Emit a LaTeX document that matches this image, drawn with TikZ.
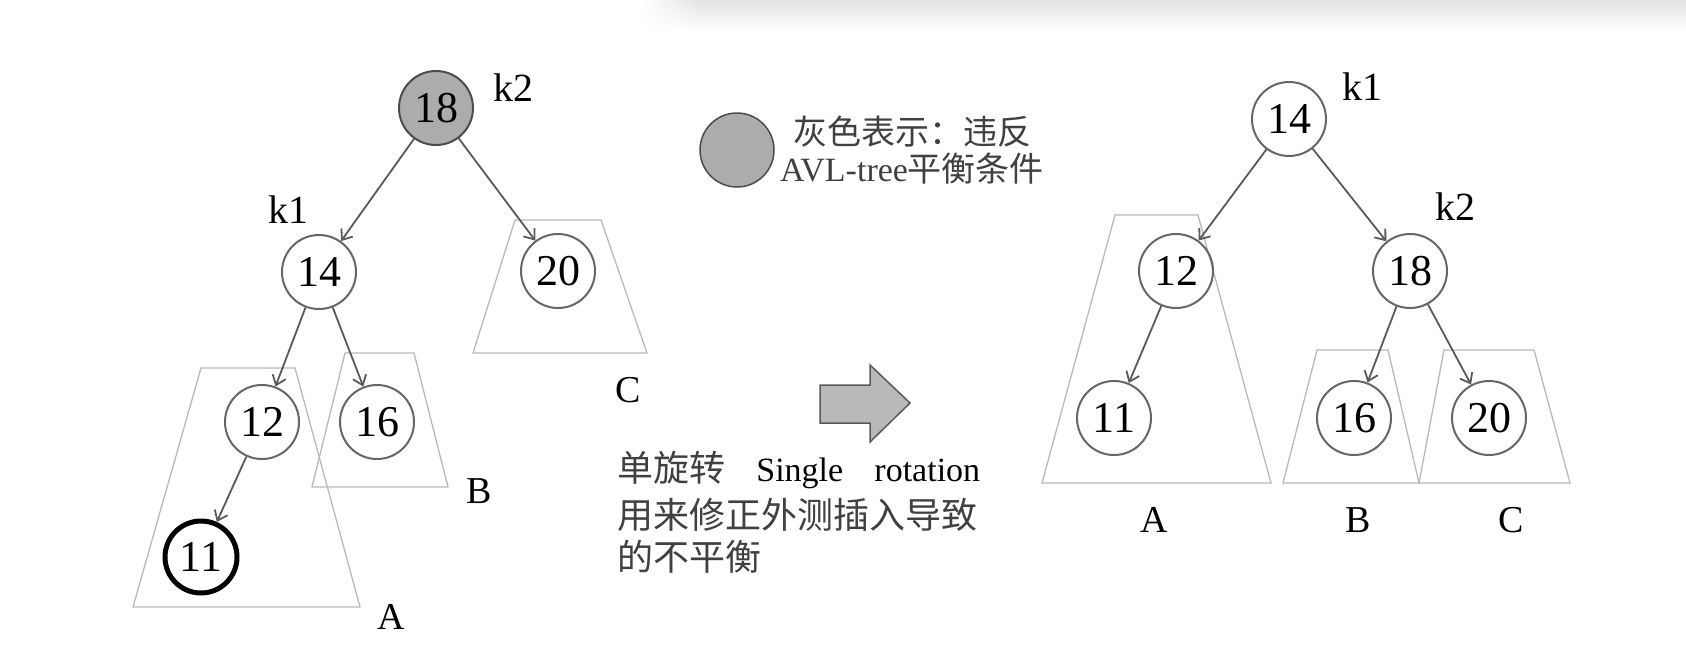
\documentclass[tikz,border=0pt]{standalone}
\usepackage{fontspec}
\setmainfont{Liberation Serif}
\newfontfamily\cjk{Noto Sans CJK SC}
\usetikzlibrary{arrows.meta,fadings}
\begin{document}
\begin{tikzpicture}[x=1pt,y=-1pt,
  tnode/.style={circle,draw=gray!80!black,line width=2pt,minimum size=74pt,inner sep=0pt,font=\fontsize{44}{44}\selectfont},
  hotnode/.style={tnode,fill=gray!65,draw=gray!60!black},
  newnode/.style={tnode,draw=black,line width=5pt,minimum size=72pt},
  edgearrow/.style={draw=gray!70!black,line width=1.8pt,-{Straight Barb[length=9pt,width=14pt]}},
  subtree/.style={draw=gray!55,line width=1.3pt},
  klabel/.style={font=\fontsize{40}{40}\selectfont,inner sep=0pt},
  sublabel/.style={font=\fontsize{38}{38}\selectfont,inner sep=0pt},
  legendtext/.style={font=\fontsize{34}{34}\selectfont,text=black!75,inner sep=0pt,anchor=west},
  notetext/.style={font=\fontsize{36}{36}\selectfont,text=black!75,inner sep=0pt,anchor=west}
]
\useasboundingbox (0,0) rectangle (1686,653);
% faint shadow at the top
\shade[top color=gray!22, bottom color=white] (700,0) rectangle (1686,32);
\shade[top color=gray!22, bottom color=white, path fading=west] (640,0) rectangle (700,32);

% ---------- left tree ----------
\draw[subtree] (515,220) -- (601,220) -- (647,353) -- (473,353) -- cycle;
\draw[subtree] (201,368) -- (295,368) -- (360,607) -- (133,607) -- cycle;
\draw[subtree] (345,353) -- (414,353) -- (448,487) -- (312,487) -- cycle;

\node[hotnode] (L18) at (436,108) {18};
\node[tnode] (L14) at (319,272) {14};
\node[tnode] (L20) at (558,271) {20};
\node[tnode] (L12) at (262,422) {12};
\node[tnode] (L16) at (377,422) {16};
\node[newnode] (L11) at (201,557) {11};

\node[klabel] (Lk2) at (513,88) {k2};
\node[klabel] (Lk1) at (288,210) {k1};
\node[sublabel] (LC) at (628,390) {C};
\node[sublabel] (LB) at (479,491) {B};
\node[sublabel] (LA) at (391,617) {A};

\draw[edgearrow] (L18) -- (L14);
\draw[edgearrow] (L18) -- (L20);
\draw[edgearrow] (L14) -- (L12);
\draw[edgearrow] (L14) -- (L16);
\draw[edgearrow] (L12) -- (L11);

% ---------- legend ----------
\node[circle,fill=gray!65,draw=gray!60!black,line width=1.5pt,minimum size=74pt,inner sep=0pt] (legdot) at (737,150) {};
\node[legendtext] (leg1) at (793,132) {\cjk 灰色表示：违反};
\node[legendtext] (leg2) at (780,169) {AVL-tree{\cjk 平衡条件}};

% ---------- rotation arrow and note ----------
\draw[fill=gray!55,draw=gray!70!black,line width=1.5pt]
  (820,385) -- (870,385) -- (870,365) -- (910,403) -- (870,442) -- (870,423) -- (820,423) -- cycle;
\node[notetext] (note1) at (617,470) {\makebox[363pt][l]{\cjk 单旋转\hfill{\normalfont\color{black}\fontsize{34}{34}\selectfont Single\hfill rotation}}};
\node[notetext] (note2) at (617,515) {\cjk 用来修正外测插入导致};
\node[notetext] (note3) at (617,557) {\cjk 的不平衡};

% ---------- right tree ----------
\draw[subtree] (1115,215) -- (1198,215) -- (1271,483) -- (1042,483) -- cycle;
\draw[subtree] (1317,350) -- (1388,350) -- (1419,483) -- (1283,483) -- cycle;
\draw[subtree] (1444,350) -- (1534,350) -- (1570,483) -- (1419,483) -- cycle;

\node[tnode] (R14) at (1289,119) {14};
\node[tnode] (R12) at (1176,271) {12};
\node[tnode] (R18) at (1410,271) {18};
\node[tnode] (R11) at (1114,418) {11};
\node[tnode] (R16) at (1354,418) {16};
\node[tnode] (R20) at (1489,418) {20};

\node[klabel] (Rk1) at (1362,87) {k1};
\node[klabel] (Rk2) at (1455,207) {k2};
\node[sublabel] (RA) at (1154,520) {A};
\node[sublabel] (RB) at (1358,520) {B};
\node[sublabel] (RC) at (1511,520) {C};

\draw[edgearrow] (R14) -- (R12);
\draw[edgearrow] (R14) -- (R18);
\draw[edgearrow] (R12) -- (R11);
\draw[edgearrow] (R18) -- (R16);
\draw[edgearrow] (R18) -- (R20);
\end{tikzpicture}
\end{document}
